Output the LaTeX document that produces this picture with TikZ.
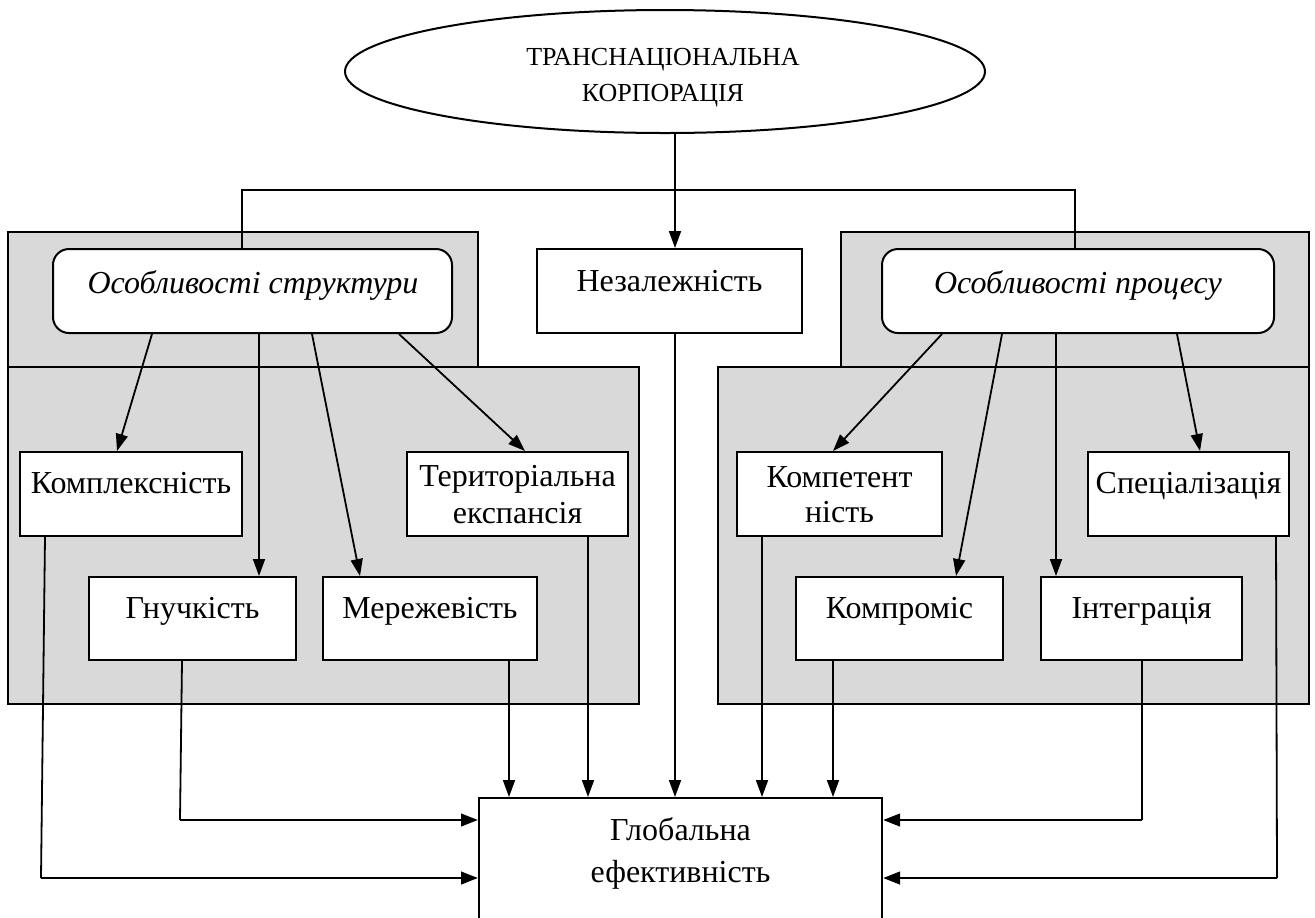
\documentclass[tikz,border=0pt]{standalone}
\usepackage{fontspec}
\setmainfont{Liberation Serif}
\usetikzlibrary{shapes.geometric,arrows.meta,fit}
\definecolor{bg}{HTML}{D9D9D9}
\begin{document}
\begin{tikzpicture}[x=0.5pt,y=-0.5pt,
  gbox/.style={draw, line width=1.1pt, fill=bg, inner sep=0pt},
  wbox/.style={draw, line width=1pt, fill=white, inner sep=0pt},
  rbox/.style={wbox, rounded corners=8pt},
  txt/.style={anchor=base, inner sep=0pt, font=\fontsize{16}{18.5}\selectfont},
  etxt/.style={anchor=base, inner sep=0pt, font=\fontsize{13}{18}\selectfont},
  ln/.style={line width=0.9pt},
  arr/.style={ln, -{Triangle[length=8.5pt,width=6pt]}},
  harr/.style={line width=1.4pt, -{Triangle[length=8.5pt,width=6.2pt]}}]
\useasboundingbox (0,0) rectangle (1315,917);

% grey panels
\node[gbox, fit={(8,232) (478,367)}] (gLu) {};
\node[gbox, fit={(8,367) (639,704)}] (gLl) {};
\node[gbox, fit={(841,232) (1309,367)}] (gRu) {};
\node[gbox, fit={(718,367) (1309,704)}] (gRl) {};

% top ellipse
\node[draw, ellipse, line width=1pt, minimum width=320pt, minimum height=61.5pt, inner sep=0pt] (ell) at (665,71.5) {};
\node[etxt] (ellA) at (663,65) {ТРАНСНАЦІОНАЛЬНА};
\node[etxt] (ellB) at (663,101) {КОРПОРАЦІЯ};

\coordinate (hL) at (242,190);
\coordinate (hR) at (1075,190);

% boxes
\node[rbox, fit={(53,249) (452,333)}] (struct) {};
\node[wbox, fit={(537,249) (802,333)}] (nez) {};
\node[rbox, fit={(882,249) (1274,333)}] (proc) {};

\node[wbox, fit={(20,452) (242,536)}] (kompl) {};
\node[wbox, fit={(407,452) (628,536)}] (ter) {};
\node[wbox, fit={(89,577) (296,660)}] (hnuch) {};
\node[wbox, fit={(323,577) (537,660)}] (merezh) {};

\node[wbox, fit={(737,452) (942,536)}] (komp) {};
\node[wbox, fit={(1088,452) (1289,536)}] (spec) {};
\node[wbox, fit={(796,577) (1003,660)}] (kompr) {};
\node[wbox, fit={(1041,577) (1242,660)}] (integ) {};

\node[wbox, fit={(479,798) (882,935)}] (glob) {};

% texts
\node[txt] (tStruct) at (253,293) {\itshape Особливості структури};
\node[txt] (tNez) at (669.5,291) {Незалежність};
\node[txt] (tProc) at (1078,293) {\itshape Особливості процесу};
\node[txt] (tKompl) at (131,493) {Комплексність};
\node[txt] (tTerA) at (517.5,486) {Територіальна};
\node[txt] (tTerB) at (517.5,523) {експансія};
\node[txt] (tHnuch) at (192.5,618) {Гнучкість};
\node[txt] (tMerezh) at (430,618) {Мережевість};
\node[txt] (tKompA) at (839.5,487) {Компетент};
\node[txt] (tKompB) at (839.5,522) {ність};
\node[txt] (tSpec) at (1188.5,493) {Спеціалізація};
\node[txt] (tKompr) at (899.5,618) {Компроміс};
\node[txt] (tInteg) at (1141.5,618) {Інтеграція};
\node[txt] (tGlobA) at (680.5,840) {Глобальна};
\node[txt] (tGlobB) at (680.5,882) {ефективність};

% top connectors
\draw[arr] (ell.south -| 675,0) -- (nez.north -| 675,0);
\draw[ln] (struct.north -| hL) -- (hL) -- (hR) -- (proc.north -| hR);

% structure arrows
\draw[arr] (struct.south -| 152,0) -- (kompl.north -| 117,0);
\draw[arr] (struct.south -| 259,0) -- (hnuch.north -| 259,0);
\draw[arr] (struct.south -| 312,0) -- (merezh.north -| 360,0);
\draw[arr] (struct.south -| 399,0) -- (ter.north -| 525,0);

% process arrows
\draw[arr] (proc.south -| 942,0) -- (komp.north -| 833,0);
\draw[arr] (proc.south -| 1002,0) -- (kompr.north -| 956,0);
\draw[arr] (proc.south -| 1056,0) -- (integ.north -| 1056,0);
\draw[arr] (proc.south -| 1177,0) -- (spec.north -| 1200,0);

% into global efficiency, from above
\draw[arr] (merezh.south -| 509,0) -- (glob.north -| 509,0);
\draw[arr] (ter.south -| 588,0) -- (glob.north -| 588,0);
\draw[arr] (nez.south -| 675,0) -- (glob.north -| 675,0);
\draw[arr] (komp.south -| 762,0) -- (glob.north -| 762,0);
\draw[arr] (kompr.south -| 833,0) -- (glob.north -| 833,0);

% into global efficiency, from the sides
\coordinate (cK) at (41,878);
\coordinate (cH) at (180,820);
\coordinate (cI) at (1142,820);
\coordinate (cS) at (1277,878);
\draw[ln] (kompl.south -| 45,0) -- (cK);
\draw[harr] (cK) -- (glob.west |- cK);
\draw[ln] (hnuch.south -| 182,0) -- (cH);
\draw[harr] (cH) -- (glob.west |- cH);
\draw[ln] (integ.south -| 1142,0) -- (cI);
\draw[harr] (cI) -- (glob.east |- cI);
\draw[ln] (spec.south -| 1276,0) -- (cS);
\draw[harr] (cS) -- (glob.east |- cS);
\end{tikzpicture}
\end{document}
